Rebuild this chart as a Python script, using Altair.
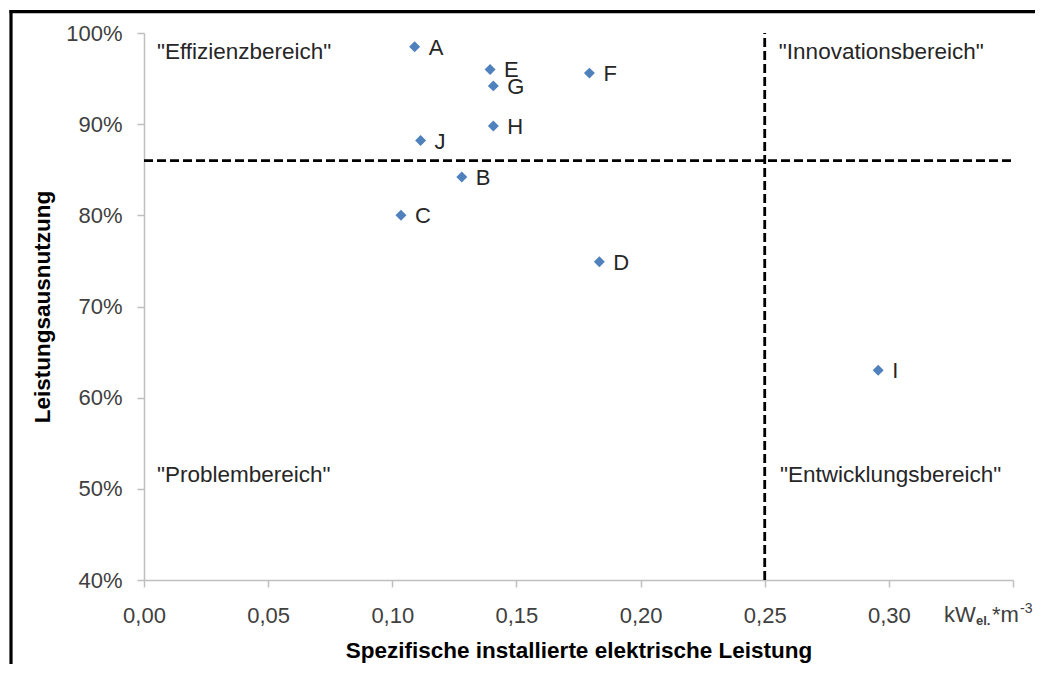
import altair as alt
import pandas as pd

# ---- data ----
names = ["A", "B", "C", "D", "E", "F", "G", "H", "I", "J"]
spec_power = [0.109, 0.128, 0.1035, 0.1834, 0.1394, 0.1794, 0.1407, 0.1407, 0.2957, 0.1114]
utilisation = [0.985, 0.842, 0.800, 0.749, 0.960, 0.956, 0.942, 0.898, 0.630, 0.882]

threshold_x = [0.25]
threshold_y = [0.86]

x_ticks = [0.0, 0.05, 0.10, 0.15, 0.20, 0.25, 0.30, 0.35]
y_ticks = [0.4, 0.5, 0.6, 0.7, 0.8, 0.9, 1.0]

region_names = ['"Effizienzbereich"', '"Innovationsbereich"', '"Problembereich"', '"Entwicklungsbereich"']
region_x = [0.0052, 0.2557, 0.0052, 0.2562]
region_y = [0.9712, 0.9712, 0.5078, 0.5078]

FONT = "Liberation Sans"
W, H = 869, 547

points = pd.DataFrame({"name": names, "x": spec_power, "y": utilisation})
regions = pd.DataFrame({"label": region_names, "x": region_x, "y": region_y})
hline = pd.DataFrame({"y": threshold_y, "x0": [0.0], "x1": [0.35]})
vline = pd.DataFrame({"x": threshold_x, "y0": [0.4], "y1": [1.0]})

xscale = alt.Scale(domain=[0, 0.35], nice=False, zero=False)
yscale = alt.Scale(domain=[0.4, 1.0], nice=False, zero=False)

xaxis = alt.Axis(
    values=x_ticks,
    labelExpr="datum.value > 0.34 ? '' : replace(format(datum.value, '.2f'), '.', ',')",
    title="Spezifische installierte elektrische Leistung",
    titleFont=FONT, titleFontSize=22.5, titleFontWeight="bold", titleColor="#000000",
    titleBaseline="alphabetic", titleY=77,
    labelFont=FONT, labelFontSize=22, labelColor="#404040",
    labelBaseline="alphabetic", labelPadding=35,
    tickSize=7, tickColor="#bfbfbf", domainColor="#bfbfbf",
    domainWidth=1.5, tickWidth=1.5, grid=False, labelFlush=False,
)
yaxis = alt.Axis(
    values=y_ticks, format=".0%",
    title="Leistungsausnutzung",
    titleFont=FONT, titleFontSize=22.5, titleFontWeight="bold", titleColor="#000000",
    titleBaseline="alphabetic", titleX=-95, titleAngle=270,
    labelFont=FONT, labelFontSize=22, labelColor="#404040",
    labelBaseline="middle", labelPadding=15,
    tickSize=7, tickColor="#bfbfbf", domainColor="#bfbfbf",
    domainWidth=1.5, tickWidth=1.5, grid=False, labelFlush=False,
)

pts = alt.Chart(points).mark_point(
    shape="diamond", filled=True, size=120, color="#4f81bd", opacity=1
).encode(
    x=alt.X("x:Q", scale=xscale, axis=xaxis),
    y=alt.Y("y:Q", scale=yscale, axis=yaxis),
)

pt_labels = alt.Chart(points).mark_text(
    align="left", baseline="middle", dx=14, dy=1, font=FONT, fontSize=22, color="#262626"
).encode(x="x:Q", y="y:Q", text="name:N")

reg = alt.Chart(regions).mark_text(
    align="left", baseline="alphabetic", font=FONT, fontSize=22.5, color="#262626"
).encode(x="x:Q", y="y:Q", text="label:N")

hl = alt.Chart(hline).mark_rule(color="#000000", strokeWidth=2.8, strokeDash=[9, 4]).encode(
    x="x0:Q", x2="x1:Q", y="y:Q"
)
vl = alt.Chart(vline).mark_rule(color="#000000", strokeWidth=2.8, strokeDash=[9, 4]).encode(
    x="x:Q", y="y0:Q", y2="y1:Q"
)

# unit label next to the x axis
unit_kw = alt.Chart(pd.DataFrame({"t": ["kW"]})).mark_text(
    align="left", baseline="alphabetic", font=FONT, fontSize=22, color="#404040"
).encode(x=alt.value(800), y=alt.value(589), text="t:N")
unit_el = alt.Chart(pd.DataFrame({"t": ["el."]})).mark_text(
    align="left", baseline="alphabetic", font=FONT, fontSize=13, fontWeight="bold", color="#404040"
).encode(x=alt.value(832), y=alt.value(592), text="t:N")
unit_m = alt.Chart(pd.DataFrame({"t": ["*m"]})).mark_text(
    align="left", baseline="alphabetic", font=FONT, fontSize=22, color="#404040"
).encode(x=alt.value(848), y=alt.value(589), text="t:N")
unit_exp = alt.Chart(pd.DataFrame({"t": ["-3"]})).mark_text(
    align="left", baseline="alphabetic", font=FONT, fontSize=14, color="#404040"
).encode(x=alt.value(876), y=alt.value(580), text="t:N")

# outer frame (top and left edges of the cropped picture border)
frame_top = alt.Chart(pd.DataFrame({"k": [0]})).mark_rule(color="#000000", strokeWidth=3.2).encode(
    x=alt.value(-134.5), x2=alt.value(900), y=alt.value(-21.3)
)
frame_left = alt.Chart(pd.DataFrame({"k": [0]})).mark_rule(color="#000000", strokeWidth=3.2).encode(
    x=alt.value(-133), y=alt.value(-22.9), y2=alt.value(650)
)

chart = alt.layer(
    hl, vl, pts, pt_labels, reg, unit_kw, unit_el, unit_m, unit_exp, frame_top, frame_left
).properties(
    width=W, height=H,
    autosize=alt.AutoSizeParams(type="none"),
    padding={"left": 136, "top": 25, "right": 22, "bottom": 84},
    background="#ffffff",
).configure_view(strokeWidth=0)

chart.save("out.html", embed_options={"renderer": "svg", "actions": False})
